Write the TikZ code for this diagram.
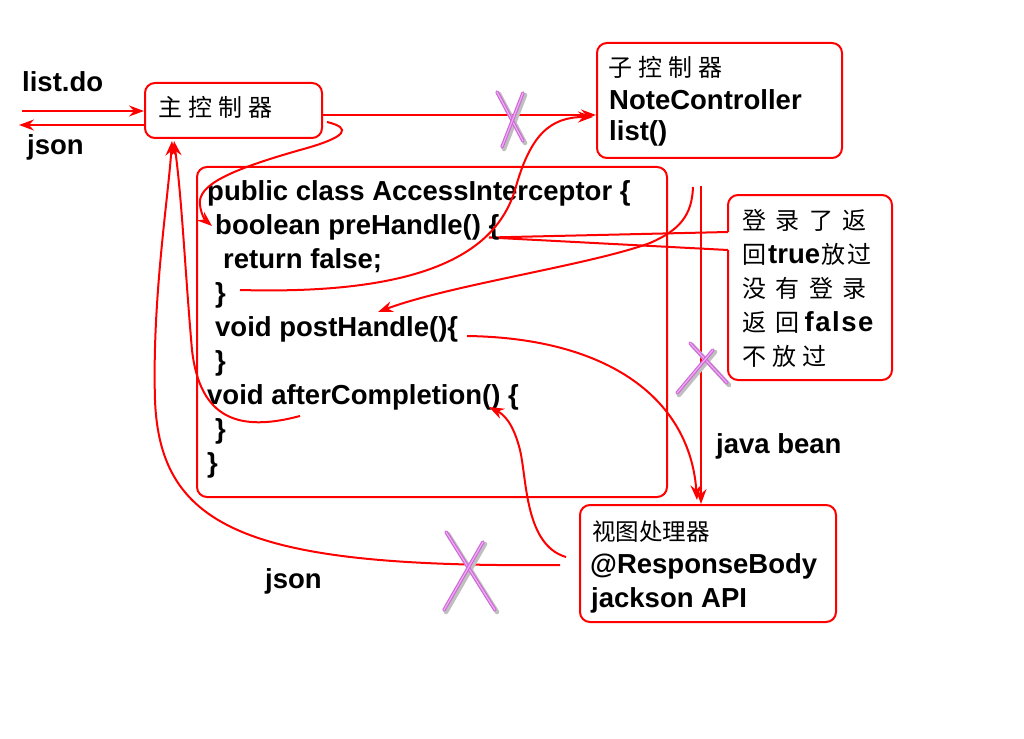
\documentclass[tikz,border=0pt]{standalone}
\usepackage{fontspec}
\setmainfont{Liberation Sans}
\newfontfamily\cjk{Noto Sans CJK SC}
\usetikzlibrary{arrows.meta}
\definecolor{xviolet}{RGB}{205,105,215}
\definecolor{xlight}{RGB}{240,170,245}
\begin{document}
\begin{tikzpicture}[x=1pt,y=-1pt,
  box/.style={draw=red, line width=2pt, rounded corners=10pt, inner sep=0pt, fill=white},
  conn/.style={draw=red, line width=2pt},
  arr/.style={conn, -{Stealth[length=15pt,width=11pt,inset=5pt]}},
  lbl/.style={anchor=base west, inner sep=0pt, font=\fontsize{27.5}{32}\selectfont\bfseries},
  zh/.style={anchor=base west, inner sep=0pt, font=\fontsize{24}{28}\selectfont\cjk},
  zhs/.style={anchor=base west, inner sep=0pt, font=\fontsize{23.5}{28}\selectfont\cjk},
  xshadow/.style={draw=black!25, line width=4.5pt, line cap=round},
  xstroke/.style={draw=xviolet, line width=3.5pt, line cap=round},
  xinner/.style={draw=xlight, line width=1.2pt, line cap=round}]
\useasboundingbox (0,0) rectangle (1024,738);
\fill[white] (0,0) rectangle (1024,738);

% boxes
\node[box, minimum width=177pt, minimum height=55pt] (main) at (233.5,110.5) {};
\node[box, minimum width=245pt, minimum height=115pt] (sub) at (719.5,100.5) {};
\node[box, minimum width=164pt, minimum height=185pt] (call) at (810,287.5) {};
\node[box, minimum width=256pt, minimum height=117pt] (view) at (708,563.5) {};

% callout pointer
\coordinate (tip) at (489,237.5);
\coordinate (cp1) at (728,232);
\coordinate (cp2) at (728,250);
\fill[white] ([xshift=1.5pt]cp1) -- (tip) -- ([xshift=1.5pt]cp2) -- cycle;
\draw[conn] (cp1) -- (tip) -- (cp2);

\node[box, fill=none, minimum width=470pt, minimum height=330pt] (code) at (432,332) {};

% texts
\node[lbl] (tlist) at (22,92) {list.do};
\node[lbl] (tjson) at (27,155) {json};
\node[zh] (tmain) at (158,117) {主\hspace{6pt}控\hspace{6pt}制\hspace{6pt}器};
\node[zh] (tsub) at (608,77) {子\hspace{6pt}控\hspace{6pt}制\hspace{6pt}器};
\node[lbl] (tnote) at (609,110) {NoteController};
\node[lbl] (tlistm) at (609,141) {list()};

\node[lbl] (c1) at (207,200) {public class AccessInterceptor \{};
\node[lbl] (c2) at (215,234) {boolean preHandle() \{};
\node[lbl] (c3) at (223,268) {return false;};
\node[lbl] (c4) at (215,302) {\}};
\node[lbl] (c5) at (215,336) {void postHandle()\{};
\node[lbl] (c6) at (215,370) {\}};
\node[lbl] (c7) at (207,404) {void afterCompletion() \{};
\node[lbl] (c8) at (215,438) {\}};
\node[lbl] (c9) at (207,472) {\}};

\node[zh] (k1) at (742,229) {登\hspace{9.5pt}录\hspace{9.5pt}了\hspace{9.5pt}返};
\node[zh] (k2) at (742,263) {回\hspace{2pt}{\rmfamily\bfseries\fontsize{27.5}{32}\selectfont true}\hspace{1pt}放\hspace{2pt}过};
\node[zh] (k3) at (742,297) {没\hspace{9.5pt}有\hspace{9.5pt}登\hspace{9.5pt}录};
\node[zh] (k4) at (742,331) {返\hspace{9.5pt}回\hspace{5pt}{\rmfamily\bfseries\fontsize{27.5}{32}\selectfont f\kern1.5pt a\kern1.5pt l\kern1.5pt s\kern1.5pt e}};
\node[zh] (k5) at (742,365) {不\hspace{6pt}放\hspace{6pt}过};

\node[lbl] (tbean) at (716,453) {java bean};
\node[zhs] (tview) at (592,540) {视图处理器};
\node[lbl] (tresp) at (590,573) {@ResponseBody};
\node[lbl] (tjack) at (591,607) {jackson API};
\node[lbl] (tjson2) at (265,588) {json};

% connectors
\coordinate (lin) at (22,111);
\coordinate (lout) at (19,125);
\draw[arr] (lin) -- (main.west |- lin);
\draw[arr] ([xshift=2pt]main.west |- lout) -- (lout);
\coordinate (m1) at (322,115);
\draw[arr] (m1) -- (sub.west |- m1);

\coordinate (m2) at (327,122);
\coordinate (pre) at (212,226);
\draw[arr] (m2) .. controls (352,128) and (348,137) .. (300,150)
  .. controls (230,170) and (197,185) .. (200,205)
  .. controls (201,214) and (205,220) .. (pre);

\coordinate (rf) at (240,290);
\coordinate (s1) at (593,117);
\draw[arr] (rf) .. controls (420,295) and (495,255) .. (515,190)
  .. controls (530,135) and (550,117) .. (s1);

\coordinate (a0) at (693,187);
\coordinate (ph) at (378,312);
\draw[arr] (a0) .. controls (692,215) and (680,230) .. (650,243)
  .. controls (590,265) and (450,285) .. (ph);

\coordinate (v0) at (701,186);
\draw[arr] (v0) -- (view.north -| v0);

\coordinate (ph2) at (467,336);
\coordinate (vtop) at (697,500);
\draw[arr] (ph2) .. controls (610,338) and (690,400) .. (vtop);

\coordinate (vw) at (566,557);
\coordinate (ac) at (489,407);
\draw[arr] (vw) .. controls (525,545) and (527,480) .. (520,450)
  .. controls (513,422) and (503,414) .. (ac);

\coordinate (vj) at (560,565);
\coordinate (mb1) at (172,141);
\draw[arr] (vj) .. controls (250,568) and (160,530) .. (155,400)
  .. controls (152,300) and (168,200) .. (mb1);

\coordinate (ac2) at (300,416);
\coordinate (mb2) at (174,141);
\draw[arr] (ac2) .. controls (240,432) and (200,420) .. (192,350)
  .. controls (185,270) and (182,200) .. (mb2);

% X marks
\foreach \ax/\ay/\bx/\by in {497/92/523/141, 523/93/502/147, 690/343/727/383, 713/350/677/393, 446/532/495/610, 483/542/444/610}{
  \draw[xshadow] (\ax+2,\ay+2) -- (\bx+2,\by+2);
}
\foreach \ax/\ay/\bx/\by in {497/92/523/141, 523/93/502/147, 690/343/727/383, 713/350/677/393, 446/532/495/610, 483/542/444/610}{
  \draw[xstroke] (\ax,\ay) -- (\bx,\by);
  \draw[xinner] (\ax,\ay) -- (\bx,\by);
}
\end{tikzpicture}
\end{document}
